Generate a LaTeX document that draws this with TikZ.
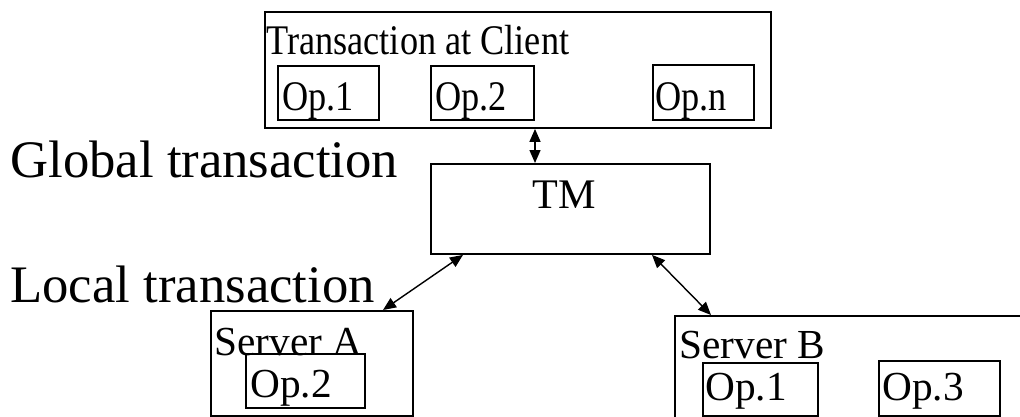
\documentclass[tikz,border=0pt]{standalone}
\usepackage{fontspec}
\setmainfont{Liberation Serif}
\usepackage{graphicx}
\usetikzlibrary{arrows.meta, calc}

% client-side labels are set a little condensed
\newcommand{\condensed}[1]{\scalebox{0.86}[1]{#1}}

\begin{document}
\begin{tikzpicture}[x=0.02cm, y=-0.02cm,
  box/.style={rectangle, draw=black, line width=1.1pt, anchor=north west, inner sep=0pt},
  txt/.style={anchor=base west, inner sep=0pt, font=\fontsize{23.5pt}{26pt}\selectfont},
  big/.style={anchor=base west, inner sep=0pt, font=\fontsize{30pt}{34pt}\selectfont},
  arr/.style={{Triangle[length=0.26cm, width=0.22cm]}-{Triangle[length=0.26cm, width=0.22cm]}, line width=0.8pt}]

  \clip (0,0) rectangle (1020,416);

  % client transaction and its operations
  \node[box, minimum width=10.12cm, minimum height=2.32cm] at (264,11) (client) {};
  \node[txt, font=\fontsize{24pt}{26pt}\selectfont] at (266,54) (clientlbl) {\condensed{Transaction at Client}};
  \node[box, minimum width=2.02cm, minimum height=1.08cm] at (277,65) (cop1) {};
  \node[box, minimum width=2.06cm, minimum height=1.08cm] at (430,65) (cop2) {};
  \node[box, minimum width=2.02cm, minimum height=1.10cm] at (652,64) (copn) {};
  \node[txt, font=\fontsize{24pt}{26pt}\selectfont] at (282,110) {\condensed{Op.1}};
  \node[txt, font=\fontsize{24pt}{26pt}\selectfont] at (435,110) {\condensed{Op.2}};
  \node[txt, font=\fontsize{24pt}{26pt}\selectfont] at (655,110) {\condensed{Op.n}};

  % transaction manager
  \node[box, minimum width=5.58cm, minimum height=1.8cm] at (430,163) (tm) {};
  \node[txt, font=\fontsize{24pt}{26pt}\selectfont] at (532,208) (tmlbl) {TM};

  \node[big] at (10,177) (global) {Global transaction};
  \node[big] at (10,302) (local) {Local transaction};

  % servers
  \node[box, minimum width=4.04cm, minimum height=2.1cm] at (210,310) (srva) {};
  \node[txt] at (214,355) (srvalbl) {Server A};
  \node[box, minimum width=2.38cm, minimum height=1.08cm] at (245,353) (aop2) {};
  \node[txt] at (250,397) {Op.2};

  \node[box, minimum width=8.6cm, minimum height=3cm] at (674,315) (srvb) {};
  \node[txt] at (679,358) (srvblbl) {Server B};
  \node[box, minimum width=2.3cm, minimum height=1.06cm] at (702,362) (bop1) {};
  \node[box, minimum width=2.42cm, minimum height=1.1cm] at (878,360) (bop3) {};
  \node[txt] at (705,400) {Op.1};
  \node[txt] at (882,400) {Op.3};

  % connectors
  \draw[arr] ($(client.south west)+(271,0)$) -- ($(tm.north west)+(105,0)$);
  \draw[arr] ($(tm.south west)+(33,0)$) -- ($(srva.north west)+(173,0)$);
  \draw[arr] ($(tm.south west)+(222,0)$) -- ($(srvb.north west)+(37,0)$);

\end{tikzpicture}
\end{document}
